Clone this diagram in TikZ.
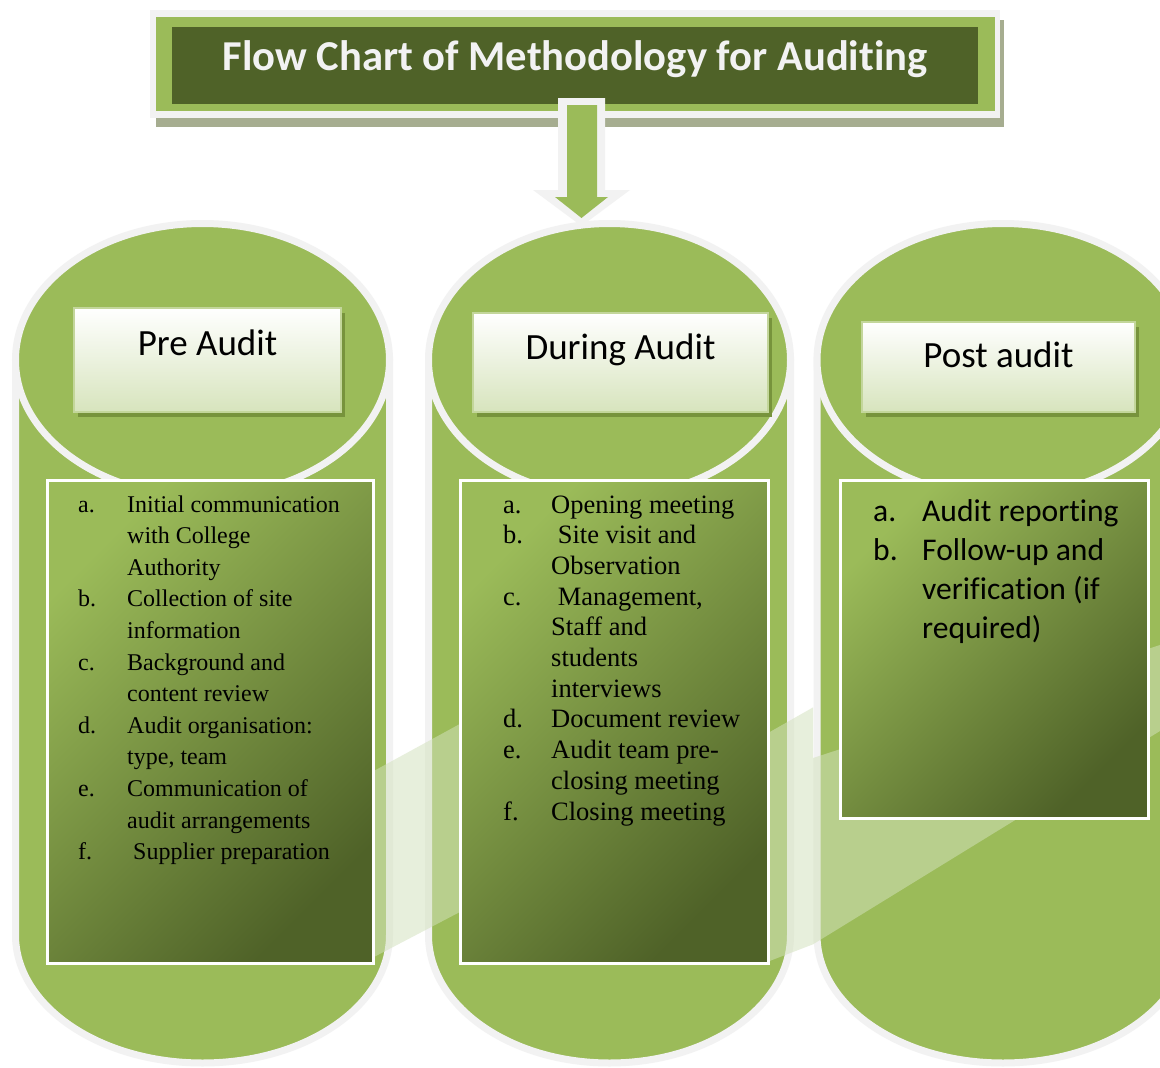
\documentclass[tikz,border=0pt]{standalone}
\usepackage{fontspec}
\setmainfont{Liberation Serif}[Ligatures=NoCommon]
\newfontfamily\calibrifont{Carlito}[Ligatures=NoCommon]
\usetikzlibrary{shadows}
\definecolor{leaf}{HTML}{9BBB59}
\definecolor{moss}{HTML}{4F6228}
\definecolor{rim}{HTML}{F2F2F2}
\definecolor{titleshade}{HTML}{A6AD90}
\definecolor{hdrshade}{HTML}{77933C}
\definecolor{hdrrim}{HTML}{C3D69B}
\definecolor{hdrlow}{HTML}{D7E4BD}
\definecolor{sweep}{HTML}{D3E1BD}
\newcommand\lbl[2]{\makebox[#1][l]{#2}}
\begin{document}
\begin{tikzpicture}[x=1pt,y=-1pt,
  can/.style={fill=leaf, draw=rim, line width=7pt},
  band/.style={fill=sweep, fill opacity=0.53},
  panel/.style={draw=white, line width=2.5pt, top color=leaf, bottom color=moss, shading angle=45, inner sep=0, anchor=north west},
  hdr/.style={draw=hdrrim, line width=2pt, top color=white, bottom color=hdrlow, inner sep=0,
    font=\calibrifont\fontsize{37}{44}\selectfont,
    general shadow={fill=hdrshade, shadow xshift=4pt, shadow yshift=-5pt}},
  items/.style={inner sep=0, anchor=base west, text=black},
]
\useasboundingbox (0,0) rectangle (1160,1068);
\fill[white] (0,0) rectangle (1160,1068);

% three cans
\foreach \cx/\hw in {202.5/187, 609.5/181, 1003/186} {
  \path[can] (\cx-\hw,360) -- (\cx-\hw,935)
     arc[start angle=180, end angle=0, x radius=\hw, y radius=128]
     -- (\cx+\hw,360) -- cycle;
  \path[can] (\cx,360) ellipse[x radius=\hw, y radius=136.5];
}

% translucent sweep behind the panels
\path[band] (365,775.8) -- (470,718.4) -- (470,906.7) -- (365,961.7) -- cycle;
\path[band] (767,733.6) -- (813,707.4) -- (813,944.3) -- (767,962) -- cycle;
\path[band] (813,758) -- (1160,645) -- (1160,731) -- (813,944.3) -- cycle;

% title banner
\fill[titleshade] (156,20) rectangle (1004,127);
\fill[rim] (150,10) rectangle (1000,118);
\fill[leaf] (156,17) rectangle (995,111);
\node[fill=moss, minimum width=806pt, inner sep=0, text height=43pt, text depth=34pt, text=rim,
  font=\calibrifont\bfseries\fontsize{42.6}{50}\selectfont] (title) at (575,65.5)
  {Flow Chart of Methodology for Auditing};

% block arrow from banner down to the middle can
\path[fill=rim] (558,98) -- (605,98) -- (605,190) -- (630,190) -- (581.5,226) -- (533,190) -- (558,190) -- cycle;
\path[fill=leaf] (567,105) -- (597,105) -- (597,197) -- (608,197) -- (581.5,218) -- (555,197) -- (567,197) -- cycle;

% content panels
\node[panel, minimum width=326pt, minimum height=483pt] (prebox) at (46,479) {};
\node[panel, minimum width=308pt, minimum height=483pt] (durbox) at (459,479) {};
\node[panel, minimum width=308pt, minimum height=338pt] (postbox) at (839,479) {};

% headers
\node[hdr, minimum width=267pt, text height=47pt, text depth=57pt] (prehdr) at (207.5,360) {Pre Audit};
\node[hdr, minimum width=295pt, text height=46pt, text depth=53pt] (durhdr) at (620.5,362.5) {During Audit};
\node[hdr, minimum width=273pt, text height=45pt, text depth=45pt] (posthdr) at (998.5,367) {Post audit};

% lists
\node[items, font=\fontsize{24}{31.6}\selectfont] (prelist) at (78,512) {%
\begin{tabular}[t]{@{}l@{}}
\lbl{49pt}{a.}Initial communication\\
\lbl{49pt}{}with College\\
\lbl{49pt}{}Authority\\
\lbl{49pt}{b.}Collection of site\\
\lbl{49pt}{}information\\
\lbl{49pt}{c.}Background and\\
\lbl{49pt}{}content review\\
\lbl{49pt}{d.}Audit organisation:\\
\lbl{49pt}{}type, team\\
\lbl{49pt}{e.}Communication of\\
\lbl{49pt}{}audit arrangements\\
\lbl{49pt}{f.}\ Supplier preparation
\end{tabular}};

\node[items, font=\fontsize{26.5}{30.7}\selectfont] (durlist) at (503,513) {%
\begin{tabular}[t]{@{}l@{}}
\lbl{48pt}{a.}Opening meeting\\
\lbl{48pt}{b.}\ Site visit and\\
\lbl{48pt}{}Observation\\
\lbl{48pt}{c.}\ Management,\\
\lbl{48pt}{}Staff and\\
\lbl{48pt}{}students\\
\lbl{48pt}{}interviews\\
\lbl{48pt}{d.}Document review\\
\lbl{48pt}{e.}Audit team pre-\\
\lbl{48pt}{}closing meeting\\
\lbl{48pt}{f.}Closing meeting
\end{tabular}};

\node[items, font=\calibrifont\fontsize{31.6}{39}\selectfont] (postlist) at (873,521) {%
\begin{tabular}[t]{@{}l@{}}
\lbl{49pt}{a.}Audit reporting\\
\lbl{49pt}{b.}Follow-up and\\
\lbl{49pt}{}verification (if\\
\lbl{49pt}{}required)
\end{tabular}};
\end{tikzpicture}
\end{document}
